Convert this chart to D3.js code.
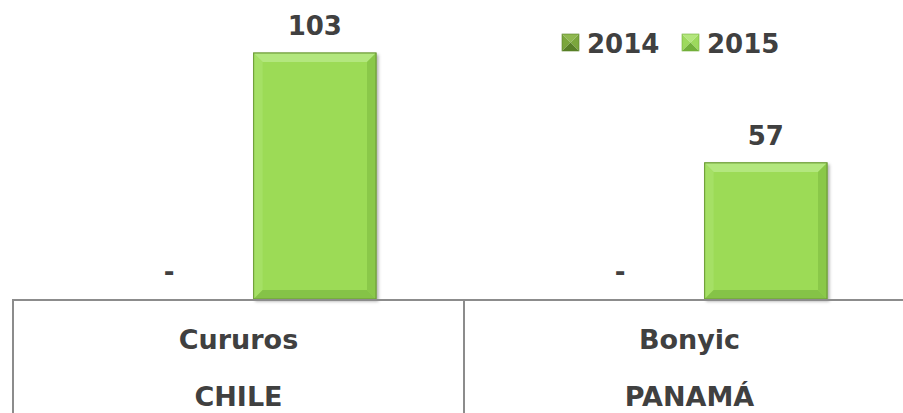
<!DOCTYPE html>
<html>
<head>
<meta charset="utf-8">
<script src="https://cdn.jsdelivr.net/npm/d3@7"></script>
<style>
  body { margin: 0; background: #fff; }
  svg { display: block; }
  text { fill: #404040; font-family: "DejaVu Sans", Verdana, sans-serif; font-weight: bold; }
</style>
</head>
<body>
<svg width="903" height="413"></svg>
<script>
// data
var plants = ["Cururos", "Bonyic"];
var countries = ["CHILE", "PANAMÁ"];
var years = ["2014", "2015"];
var values2014 = [0, 0];
var values2015 = [103, 57];

var svg = d3.select("svg"),
    width = +svg.attr("width"),
    height = +svg.attr("height");

var axisY = 299;

var x0 = d3.scaleBand()
    .domain(plants)
    .range([13, 915]);

var x1 = d3.scaleBand()
    .domain(years)
    .range([95, 363])
    .paddingInner(0.16);

var y = d3.scaleLinear()
    .domain([0, 120])
    .range([axisY, axisY - 120 * 2.388]);

var rows = plants.map(function(p, i) {
  return { plant: p, country: countries[i], vals: [values2014[i], values2015[i]] };
});

// bar colours (bevelled look)
var barCol = { base: "#9cdb57", top: "#b9ea88", left: "#a8e169", right: "#86c346", bottom: "#80bd43", line: "#6f9e38" };

var defs = svg.append("defs");
var f = defs.append("filter").attr("id", "shadow")
    .attr("x", "-10%").attr("y", "-10%").attr("width", "130%").attr("height", "130%");
f.append("feDropShadow").attr("dx", 2).attr("dy", 2).attr("stdDeviation", 1.5)
    .attr("flood-color", "#000").attr("flood-opacity", 0.3);

var groups = svg.append("g").selectAll("g")
  .data(rows)
  .enter().append("g")
    .attr("transform", function(d) { return "translate(" + x0(d.plant) + ",0)"; });

var bars = groups.selectAll("g.bar")
  .data(function(d) { return d.vals.map(function(v, j) { return { year: years[j], value: v }; }); })
  .enter().append("g")
    .attr("class", "bar");

bars.filter(function(d) { return d.value > 0; }).each(function(d) {
  var g = d3.select(this);
  var bx = x1(d.year), bw = x1.bandwidth(), by = y(d.value), bh = axisY - y(d.value);
  var b = 9;
  g.append("rect")
      .attr("x", bx).attr("y", by).attr("width", bw).attr("height", bh)
      .attr("fill", barCol.base).attr("stroke", barCol.line).attr("stroke-width", 1)
      .attr("filter", "url(#shadow)");
  var pts = {
    top: [[bx, by], [bx + bw, by], [bx + bw - b, by + b], [bx + b, by + b]],
    left: [[bx, by], [bx + b, by + b], [bx + b, by + bh - b], [bx, by + bh]],
    right: [[bx + bw, by], [bx + bw, by + bh], [bx + bw - b, by + bh - b], [bx + bw - b, by + b]],
    bottom: [[bx, by + bh], [bx + b, by + bh - b], [bx + bw - b, by + bh - b], [bx + bw, by + bh]]
  };
  Object.keys(pts).forEach(function(k) {
    g.append("path")
        .attr("d", d3.line()(pts[k]) + "Z")
        .attr("fill", barCol[k])
        .attr("opacity", 0.8);
  });
  g.append("rect")
      .attr("x", bx).attr("y", by).attr("width", bw).attr("height", bh)
      .attr("fill", "none").attr("stroke", barCol.line).attr("stroke-width", 1);
});

// value labels
bars.append("text")
    .attr("x", function(d) { return x1(d.year) + x1.bandwidth() / 2; })
    .attr("y", function(d) { return y(d.value) - 18; })
    .attr("text-anchor", "middle")
    .attr("font-size", "26px")
    .text(function(d) { return d.value > 0 ? d.value : "-"; });

// axis line and category table
svg.append("line")
    .attr("x1", x0.range()[0]).attr("x2", width)
    .attr("y1", axisY + 1).attr("y2", axisY + 1)
    .attr("stroke", "#8c8c8c").attr("stroke-width", 2);

svg.append("g").selectAll("line")
  .data(plants.concat(["end"]))
  .enter().append("line")
    .attr("x1", function(d, i) { return i < plants.length ? x0(d) : x0.range()[1]; })
    .attr("x2", function(d, i) { return i < plants.length ? x0(d) : x0.range()[1]; })
    .attr("y1", axisY).attr("y2", height)
    .attr("stroke", "#8c8c8c").attr("stroke-width", 2);

groups.append("text")
    .attr("x", x0.bandwidth() / 2)
    .attr("y", 349)
    .attr("text-anchor", "middle")
    .attr("font-family", "'DejaVu Sans Condensed', 'DejaVu Sans', sans-serif")
    .attr("font-size", "27px")
    .text(function(d) { return d.plant; });

groups.append("text")
    .attr("x", x0.bandwidth() / 2)
    .attr("y", 406)
    .attr("text-anchor", "middle")
    .attr("font-family", "'DejaVu Sans Condensed', 'DejaVu Sans', sans-serif")
    .attr("font-size", "27px")
    .text(function(d) { return d.country; });

// legend
var legendCols = [
  { base: "#6f9b33", top: "#8fb84f", side: "#7ba63c", bottom: "#587f26" },
  { base: "#8fcf4c", top: "#b3e67c", side: "#9dd95d", bottom: "#72b03a" }
];
var legendX = d3.scalePoint().domain(years).range([562, 682]);

var lg = svg.append("g").selectAll("g")
  .data(years)
  .enter().append("g")
    .attr("transform", function(d) { return "translate(" + legendX(d) + ",34)"; });

lg.each(function(d, i) {
  var g = d3.select(this), s = 17, c = legendCols[i];
  var m = [s / 2, s / 2];
  [[[0, 0], [s, 0], m, c.top], [[0, 0], m, [0, s], c.side],
   [[s, 0], [s, s], m, c.side], [[0, s], m, [s, s], c.bottom]].forEach(function(t) {
    g.append("path").attr("d", d3.line()(t.slice(0, 3)) + "Z").attr("fill", t[3]);
  });
  g.append("rect").attr("width", s).attr("height", s)
      .attr("fill", "none").attr("stroke", c.bottom).attr("stroke-width", 0.6);
});

lg.append("text")
    .attr("x", 25)
    .attr("y", 19)
    .attr("font-size", "26px")
    .text(function(d) { return d; });
</script>
</body>
</html>
